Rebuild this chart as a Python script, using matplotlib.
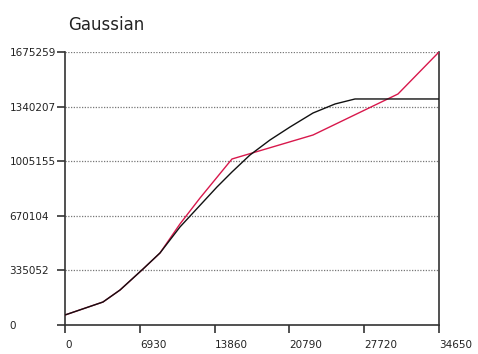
import numpy as np
import matplotlib.pyplot as plt

# chart values
x_black = [0, 3520, 5100, 7230, 8800, 10650, 14080, 15470, 17140, 18990,
           20850, 22980, 25020, 26870, 34650]
y_black = [61400, 141100, 214800, 343700, 441900, 601400, 846900, 939000,
           1043300, 1135300, 1215100, 1301000, 1356300, 1387000, 1387000]

x_red = [0, 3520, 5100, 7230, 8800, 10650, 12510, 15470, 22980, 30850, 34650]
y_red = [61400, 141100, 214800, 343700, 441900, 619800, 779400, 1018700,
         1166000, 1417600, 1675259]

x_ticks = [0, 6930, 13860, 20790, 27720, 34650]
y_ticks = [0, 335052, 670104, 1005155, 1340207, 1675259]

fig = plt.figure(figsize=(4.78, 3.54), dpi=100)
ax = fig.add_axes([65/478, 29/354, 374/478, 273/354])

ax.plot(x_red, y_red, color='#d8184c', lw=1.0, zorder=3)
ax.plot(x_black, y_black, color='#111111', lw=1.0, zorder=4)

ax.set_xlim(0, 34650)
ax.set_ylim(0, 1675259)
ax.set_xticks(x_ticks)
ax.set_yticks(y_ticks)
ax.set_xticklabels([str(v) for v in x_ticks], ha='left')
ax.set_yticklabels([str(v) for v in y_ticks], ha='left')

for v in y_ticks[1:]:
    ax.axhline(v, color='#777777', lw=0.9, ls=(0, (1, 1.2)), zorder=1)

ax.tick_params(axis='y', length=6, width=1.1, color='#222222', pad=34,
               labelsize=7.5, labelcolor='#222222')
ax.tick_params(axis='x', length=6, width=1.1, color='#222222', pad=5,
               labelsize=7.5, labelcolor='#222222')

ax.spines['top'].set_visible(False)
for s in ['left', 'right', 'bottom']:
    ax.spines[s].set_color('#333333')
    ax.spines[s].set_linewidth(1.2)

fig.text(68/478, 1 - 30/354, 'Gaussian', ha='left', va='baseline',
         fontsize=12, color='#222222')

fig.savefig('out.png', dpi=100)
